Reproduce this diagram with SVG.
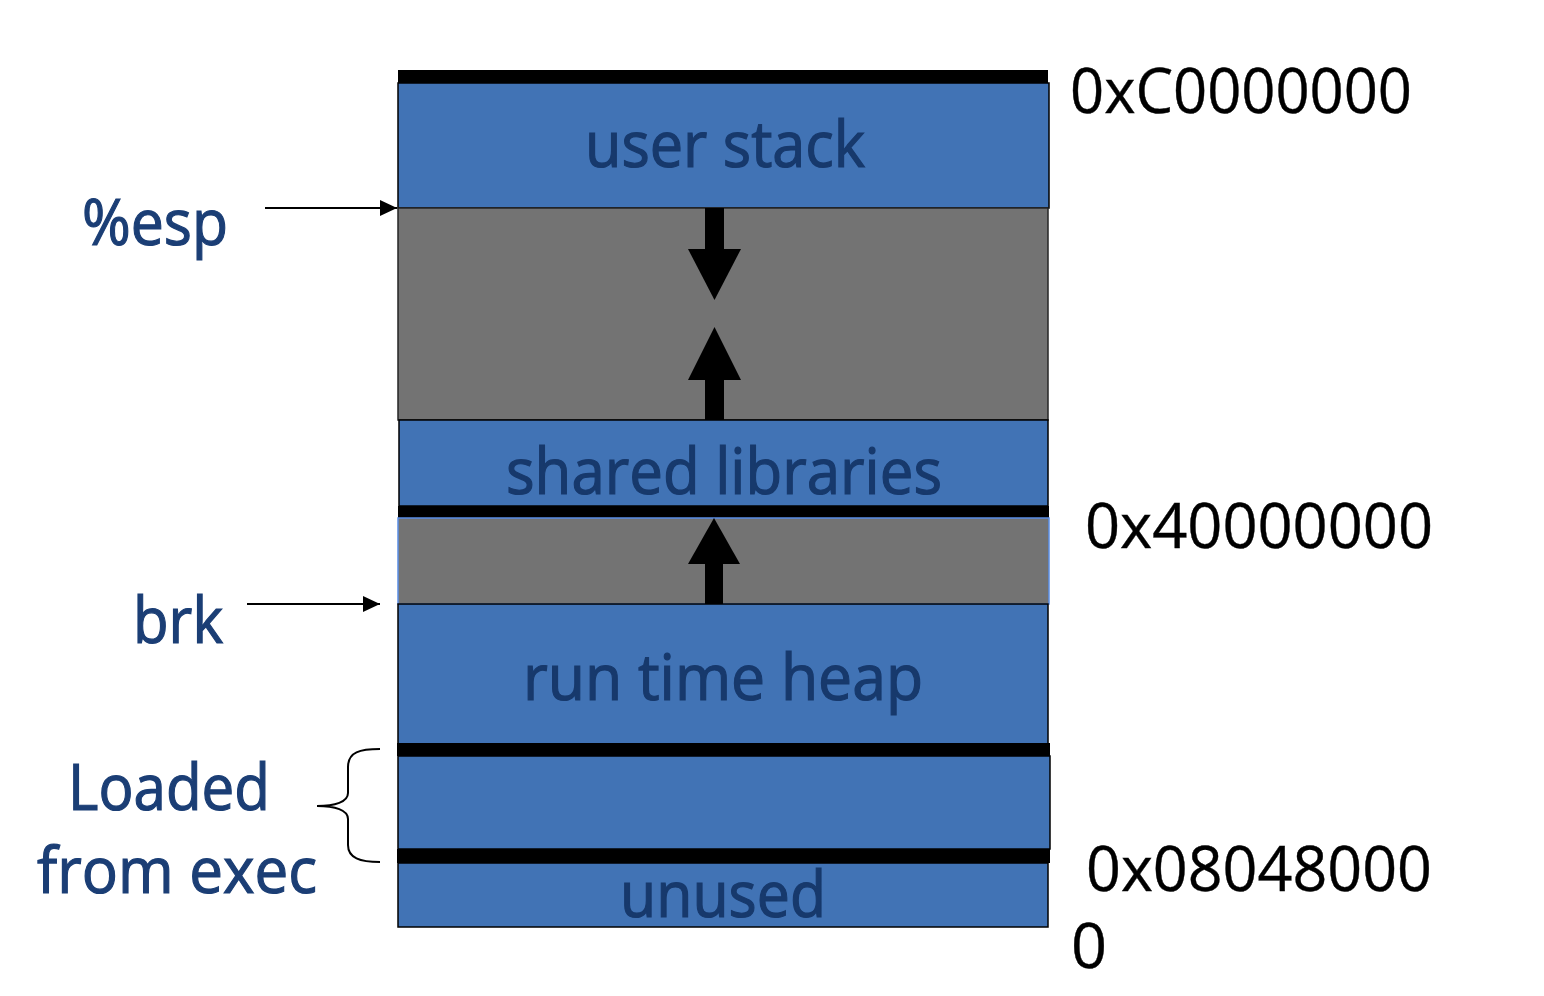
<svg xmlns="http://www.w3.org/2000/svg" width="1544" height="996" viewBox="0 0 1544 996">
<style>
.seg{fill:#4173B5;stroke:#000;stroke-width:1.5}
.free{fill:#737373;stroke:#262626;stroke-width:1.5}
.freeb{fill:#737373;stroke:#5B8FE6;stroke-width:1.5}
.bar{fill:#000}
.arr{fill:#000}
.in{font-family:"Open Sans","Liberation Sans",sans-serif;font-size:64px;fill:#17396C;stroke:#17396C;stroke-width:1.2}
.lbl{font-family:"Open Sans","Liberation Sans",sans-serif;font-size:64px;fill:#1B3E75;stroke:#1B3E75;stroke-width:1.2}
.addr{font-family:"Open Sans","Liberation Sans",sans-serif;font-size:63px;fill:#000;stroke:#000;stroke-width:0.4}
.conn{stroke:#000;stroke-width:2;fill:none}
</style>
<defs>
<marker id="ah" markerUnits="userSpaceOnUse" markerWidth="18" markerHeight="18" refX="17" refY="8" orient="auto">
<path d="M0,0 L17,8 L0,16 Z" fill="#000"/>
</marker>
</defs>
<rect width="1544" height="996" fill="#fff"/>

<g id="user-stack">
<rect class="seg" x="398" y="83" width="651" height="125"/>
<rect class="bar" x="398" y="70" width="650" height="13"/>
<text class="in" x="725" y="167" text-anchor="middle" textLength="280" lengthAdjust="spacingAndGlyphs">user stack</text>
</g>

<g id="free-upper">
<rect class="free" x="398" y="208" width="650" height="212"/>
<rect class="arr" x="705" y="208" width="19" height="42"/>
<polygon class="arr" points="688,249 741,249 714.5,300"/>
<polygon class="arr" points="714.5,327 741,380 688,380"/>
<rect class="arr" x="705" y="379" width="19" height="41"/>
</g>

<g id="shared-libraries">
<rect class="seg" x="399" y="420" width="649" height="86"/>
<rect class="bar" x="398" y="506" width="651" height="12"/>
<text class="in" x="506" y="494" textLength="436" lengthAdjust="spacingAndGlyphs">shared libraries</text>
</g>

<g id="free-lower">
<rect class="freeb" x="398" y="518" width="651" height="86"/>
<polygon class="arr" points="714,518 740,564 688,564"/>
<rect class="arr" x="705" y="563" width="18" height="41"/>
</g>

<g id="run-time-heap">
<rect class="seg" x="398" y="604" width="650" height="140"/>
<text class="in" x="523" y="700" textLength="400" lengthAdjust="spacingAndGlyphs">run time heap</text>
</g>

<g id="loaded-segment">
<rect class="bar" x="397" y="743" width="653" height="13"/>
<rect class="seg" x="398" y="756" width="652" height="93"/>
<rect class="bar" x="397" y="849" width="653" height="14"/>
</g>

<g id="unused">
<rect class="seg" x="398" y="863" width="650" height="64"/>
<text class="in" x="620" y="917" textLength="206" lengthAdjust="spacingAndGlyphs">unused</text>
</g>

<g id="label-esp">
<text class="lbl" x="82" y="245" textLength="146" lengthAdjust="spacingAndGlyphs">%esp</text>
</g>
<g id="label-brk">
<text class="lbl" x="133" y="643" textLength="90" lengthAdjust="spacingAndGlyphs">brk</text>
</g>
<g id="label-loaded">
<text class="lbl" x="68" y="810" textLength="202" lengthAdjust="spacingAndGlyphs">Loaded</text>
<text class="lbl" x="37" y="893" textLength="280" lengthAdjust="spacingAndGlyphs">from exec</text>
</g>

<g id="addresses">
<text class="addr" x="1070" y="113" textLength="342" lengthAdjust="spacingAndGlyphs">0xC0000000</text>
<text class="addr" x="1085" y="548" textLength="348" lengthAdjust="spacingAndGlyphs">0x40000000</text>
<text class="addr" x="1086" y="891" textLength="346" lengthAdjust="spacingAndGlyphs">0x08048000</text>
<text class="addr" x="1071" y="968">0</text>
</g>

<g id="connectors">
<line class="conn" x1="265" y1="208" x2="397" y2="208" marker-end="url(#ah)"/>
<line class="conn" x1="247" y1="604" x2="380" y2="604" marker-end="url(#ah)"/>
<path class="conn" d="M380,749 C360,749 348,752 348,767 L348,793 C348,802 335,806 317,806 C335,806 348,810 348,819 L348,845 C348,858 360,862 380,862"/>
</g>
</svg>
